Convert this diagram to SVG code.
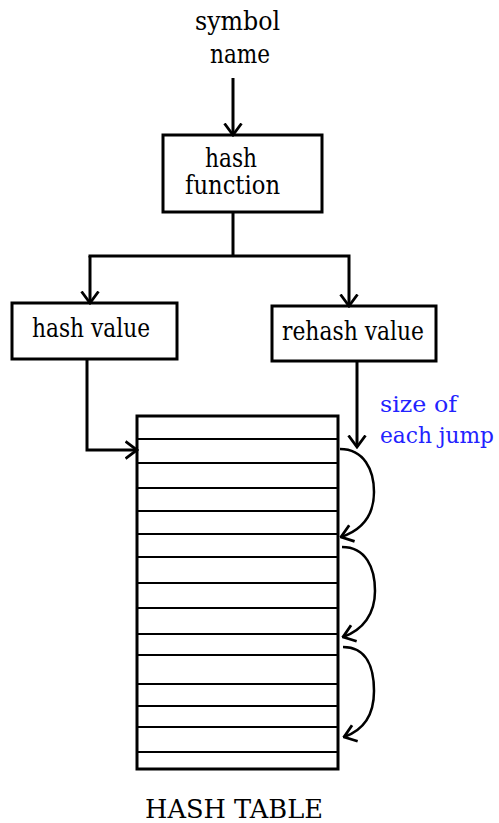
<svg xmlns="http://www.w3.org/2000/svg" width="499" height="823" viewBox="0 0 499 823">
<style>
.box{fill:#fff;stroke:#000;stroke-width:3}
.ln{fill:none;stroke:#000;stroke-width:3}
.arc{fill:none;stroke:#000;stroke-width:2.5}
.row{stroke:#000;stroke-width:2}
.t{font-family:"DejaVu Serif","Liberation Serif",serif;font-size:26px;fill:#000}
.b{fill:#2222ff;font-size:22px}
</style>
<defs>
<marker id="arr" viewBox="0 0 14 20" refX="12.5" refY="10" markerWidth="14" markerHeight="20" markerUnits="userSpaceOnUse" orient="auto">
<path d="M1,1.5 L12.5,10 L1,18.5" fill="none" stroke="#000" stroke-width="2.8"/>
</marker>
</defs>
<rect width="499" height="823" fill="#fff"/>
<g id="input">
<text class="t" x="195" y="30" textLength="85" lengthAdjust="spacingAndGlyphs">symbol</text>
<text class="t" x="210" y="63" textLength="60" lengthAdjust="spacingAndGlyphs">name</text>
</g>
<g id="hash-function">
<rect class="box" x="163" y="135" width="159" height="77"/>
<text class="t" x="205" y="167" textLength="52" lengthAdjust="spacingAndGlyphs">hash</text>
<text class="t" x="185" y="194" textLength="95" lengthAdjust="spacingAndGlyphs">function</text>
</g>
<g id="hash-value">
<rect class="box" x="12" y="303" width="165" height="56"/>
<text class="t" x="32" y="337" textLength="118" lengthAdjust="spacingAndGlyphs">hash value</text>
</g>
<g id="rehash-value">
<rect class="box" x="272" y="306" width="164" height="55"/>
<text class="t" x="282" y="340" textLength="142" lengthAdjust="spacingAndGlyphs">rehash value</text>
</g>
<g id="hash-table">
<rect class="box" x="137" y="416" width="201" height="353"/>
<g class="row">
<line x1="137" y1="439" x2="338" y2="439"/>
<line x1="137" y1="463" x2="338" y2="463"/>
<line x1="137" y1="488" x2="338" y2="488"/>
<line x1="137" y1="511" x2="338" y2="511"/>
<line x1="137" y1="534" x2="338" y2="534"/>
<line x1="137" y1="557" x2="338" y2="557"/>
<line x1="137" y1="583" x2="338" y2="583"/>
<line x1="137" y1="608" x2="338" y2="608"/>
<line x1="137" y1="634" x2="338" y2="634"/>
<line x1="137" y1="655" x2="338" y2="655"/>
<line x1="137" y1="684" x2="338" y2="684"/>
<line x1="137" y1="706" x2="338" y2="706"/>
<line x1="137" y1="727" x2="338" y2="727"/>
<line x1="137" y1="752" x2="338" y2="752"/>
</g>
<text class="t" x="145" y="818" textLength="178" lengthAdjust="spacingAndGlyphs">HASH TABLE</text>
</g>
<g id="jump-label">
<text class="t b" x="380" y="412" textLength="77" lengthAdjust="spacingAndGlyphs">size of</text>
<text class="t b" x="380" y="443" textLength="114" lengthAdjust="spacingAndGlyphs">each jump</text>
</g>
<g id="connectors">
<line class="ln" x1="233" y1="78" x2="233" y2="135" marker-end="url(#arr)"/>
<line class="ln" x1="233" y1="212" x2="233" y2="256"/>
<line class="ln" x1="90" y1="256" x2="90" y2="303" marker-end="url(#arr)"/>
<polyline class="ln" points="88.5,256 349,256 349,306" marker-end="url(#arr)"/>
<polyline class="ln" points="87,359 87,450 137,450" marker-end="url(#arr)"/>
<line class="ln" x1="357" y1="361" x2="357" y2="447" marker-end="url(#arr)"/>
<path class="arc" d="M340,449 C364,449 374,470 374,492 C374,515 362,530 341,537" marker-end="url(#arr)"/>
<path class="arc" d="M342,547 C366,547 375,568 375,591 C375,614 363,630 343,637" marker-end="url(#arr)"/>
<path class="arc" d="M343,647 C367,647 374,668 374,691 C374,714 364,730 344,737" marker-end="url(#arr)"/>
</g>
</svg>
